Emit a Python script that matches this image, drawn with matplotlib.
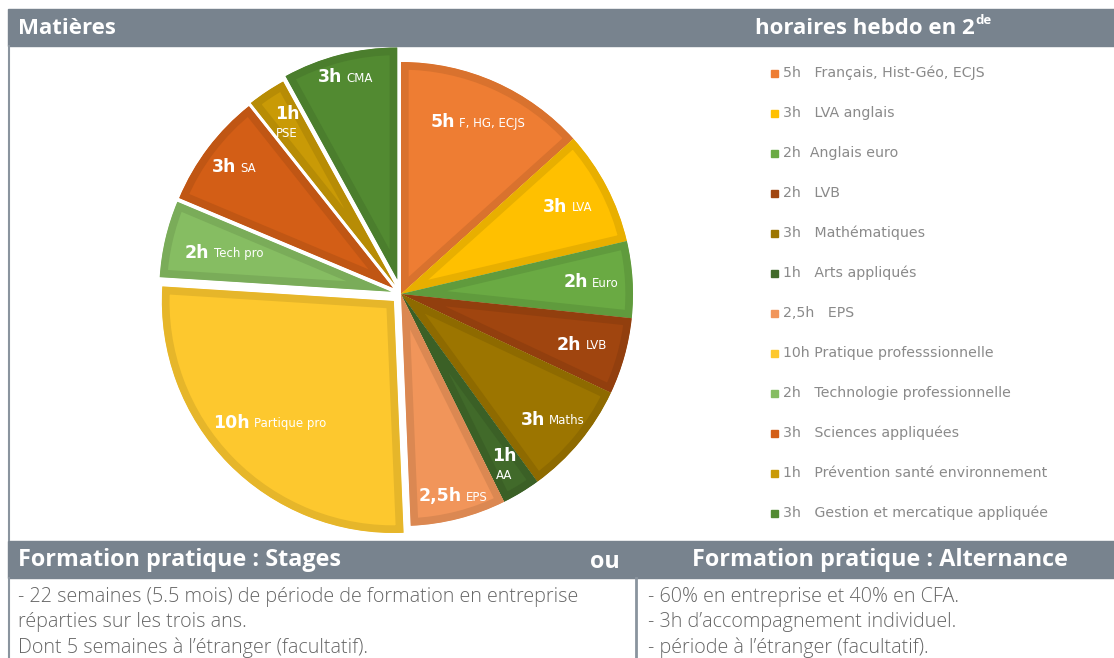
import matplotlib
matplotlib.use("Agg")
import matplotlib.pyplot as plt
import matplotlib.colors as mcolors
from matplotlib.patches import Rectangle
import numpy as np

plt.rcParams['font.family'] = ['Open Sans', 'DejaVu Sans']

# ---------------- data ----------------
hours = [5, 3, 2, 2, 3, 1, 2.5, 10, 2, 3, 1, 3]
hour_labels = ["5h", "3h", "2h", "2h", "3h", "1h", "2,5h", "10h", "2h", "3h", "1h", "3h"]
short_names = ["F, HG, ECJS", "LVA", "Euro", "LVB", "Maths", "AA", "EPS",
               "Partique pro", "Tech pro", "SA", "PSE", "CMA"]
legend_labels = [
    "5h   Français, Hist-Géo, ECJS",
    "3h   LVA anglais",
    "2h  Anglais euro",
    "2h   LVB",
    "3h   Mathématiques",
    "1h   Arts appliqués",
    "2,5h   EPS",
    "10h Pratique professsionnelle",
    "2h   Technologie professionnelle",
    "3h   Sciences appliquées",
    "1h   Prévention santé environnement",
    "3h   Gestion et mercatique appliquée",
]
colors = ["#EE7D33", "#FFC000", "#6AAA43", "#A0450F", "#9C7500", "#416A2A",
          "#F1955A", "#FDC82E", "#86BD62", "#D35E16", "#C99A06", "#528A31"]

header_left = "Matières"
header_right = "horaires hebdo en 2"
header_sup = "de"
sec_left = "Formation pratique : Stages"
sec_mid = "ou"
sec_right = "Formation pratique : Alternance"
body_left = ["- 22 semaines (5.5 mois) de période de formation en entreprise",
             "réparties sur les trois ans.",
             "Dont 5 semaines à l’étranger (facultatif)."]
body_right = ["- 60% en entreprise et 40% en CFA.",
              "- 3h d’accompagnement individuel.",
              "- période à l’étranger (facultatif)."]

# ---------------- style / layout ----------------
W, H = 1114, 658
GRAY = "#78838E"
two_line = [False, False, False, False, False, True, False, False, False, False, True, False]
explode_px = [0, 0, 0, 0, 0, 0, 0, 10, 10, 10, 11, 15]
label_r = [0.81, 0.81, 0.82, 0.81, 0.85, 0.86, 0.90, 0.75, 0.74, 0.86, 0.84, 0.90]

fig = plt.figure(figsize=(W / 100, H / 100), dpi=100)
ax = fig.add_axes([0, 0, 1, 1])

def Y(y):
    return H - y

cx, cy, R = 401, Y(294), 232
wedges, _ = ax.pie(hours, colors=colors, startangle=90, counterclock=False,
                   center=(cx, cy), radius=R, explode=explode_px,
                   wedgeprops=dict(linewidth=0))
for w, c in zip(wedges, colors):
    rgb = np.array(mcolors.to_rgb(c))
    dark = tuple(rgb * 0.91)
    w.set_edgecolor(dark)
    w.set_linewidth(11)
    w.set_clip_path(w)
    w.set_clip_on(True)

ax.set_xlim(0, W)
ax.set_ylim(0, H)
ax.set_aspect('equal')
ax.axis('off')

# header bars
ax.add_patch(Rectangle((8, Y(46)), W - 8, 37, color=GRAY, zorder=5))
ax.add_patch(Rectangle((8, Y(578)), W - 8, 37, color=GRAY, zorder=5))
# borders
ax.plot([8.5, 8.5], [Y(46), Y(540)], color="#8A949E", lw=1.5, zorder=5)
ax.plot([8.5, 8.5], [Y(578), 0], color="#8A949E", lw=1.5, zorder=5)
ax.plot([636, 636], [Y(578), 0], color="#8A949E", lw=2, zorder=5)

ax.text(18, Y(29), header_left, color="white", fontsize=16, fontweight="bold",
        va="center", ha="left", zorder=6)
t_hr = ax.text(755, Y(29), header_right, color="white", fontsize=16, fontweight="bold",
               va="center", ha="left", zorder=6)
ax.text(18, Y(560), sec_left, color="white", fontsize=16.8, fontweight="bold",
        va="center", ha="left", zorder=6)
ax.text(590, Y(562), sec_mid, color="white", fontsize=16.8, fontweight="bold",
        va="center", ha="left", zorder=6)
ax.text(692, Y(560), sec_right, color="white", fontsize=16.8, fontweight="bold",
        va="center", ha="left", zorder=6)

for i, line in enumerate(body_left):
    ax.text(18, Y(597 + 25.5 * i), line, color="#666666", fontsize=14.2,
            fontweight="light", va="center", ha="left", zorder=6)
for i, line in enumerate(body_right):
    ax.text(648, Y(597 + 25.5 * i), line, color="#666666", fontsize=14.2,
            fontweight="light", va="center", ha="left", zorder=6)

# legend
for i, (lab, c) in enumerate(zip(legend_labels, colors)):
    yy = Y(73 + 40 * i)
    ax.add_patch(Rectangle((771, yy - 3.5), 7, 7, color=c, zorder=6))
    ax.text(783, yy, lab, color="#8A8A8A", fontsize=10.2, family="DejaVu Sans",
            va="center", ha="left", zorder=6)

# pie labels
fig.canvas.draw()
renderer = fig.canvas.get_renderer()

bb = t_hr.get_window_extent(renderer)
ax.text(bb.x1 + 1, Y(21), header_sup, color="white", fontsize=9.5, fontweight="bold",
        va="center", ha="left", zorder=6)

BIG = dict(color="white", fontsize=12.5, fontweight="bold", family="DejaVu Sans", zorder=7)
SMALL = dict(color="white", fontsize=8.5, family="DejaVu Sans", zorder=7)
for w, hl, nm, tl, rf in zip(wedges, hour_labels, short_names, two_line, label_r):
    mid = np.deg2rad(0.5 * (w.theta1 + w.theta2))
    px = w.center[0] + rf * w.r * np.cos(mid)
    py = w.center[1] + rf * w.r * np.sin(mid)
    if tl:
        ax.text(px, py + 9, hl, ha="center", va="center", **BIG)
        ax.text(px, py - 11, nm, ha="center", va="center", **SMALL)
    else:
        t1 = ax.text(px, py, hl, ha="left", va="center", **BIG)
        t2 = ax.text(px, py - 1, nm, ha="left", va="center", **SMALL)
        b1 = t1.get_window_extent(renderer)
        b2 = t2.get_window_extent(renderer)
        gap = 4
        total = b1.width + gap + b2.width
        x0 = px - total / 2
        t1.set_x(x0)
        t2.set_x(x0 + b1.width + gap)

fig.savefig("out.png", dpi=100)
